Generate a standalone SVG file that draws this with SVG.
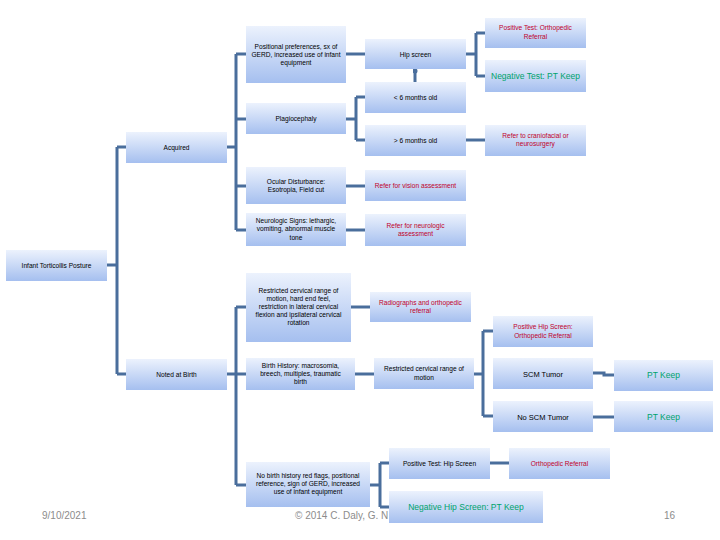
<svg xmlns="http://www.w3.org/2000/svg" width="720" height="540" viewBox="0 0 720 540">
<defs>
<linearGradient id="g" x1="0" y1="0" x2="0" y2="1">
<stop offset="0" stop-color="#ecf2fd"/>
<stop offset="1" stop-color="#a5bfef"/>
</linearGradient>
<marker id="dot" viewBox="0 0 6 6" refX="3" refY="3" markerWidth="5" markerHeight="5" markerUnits="userSpaceOnUse" orient="auto">
<circle cx="3" cy="3" r="3" fill="#4a6e9c"/>
</marker>
</defs>
<style>
rect.b{fill:url(#g);}
text{font-family:"Liberation Sans",Arial,sans-serif;font-size:6.6px;text-anchor:middle;fill:#000;}
text.r{fill:#c0002a;}
text.gr{fill:#00a36c;font-size:8.5px;}
text.m{font-size:7.5px;}
text.f{fill:#8c8c8c;font-size:10px;text-anchor:start;}
.c path{fill:none;stroke:#4a6e9c;stroke-width:3;}
</style>
<rect width="720" height="540" fill="#fff"/>
<g id="footer">
<text class="f" x="42" y="519">9/10/2021</text>
<text class="f" x="295" y="519">© 2014 C. Daly, G. N</text>
<text class="f" x="664" y="519">16</text>
</g>
<g class="c" id="connectors">
<path d="M107,265 H117 M117,147 V374 M117,147 H126 M117,374 H126"/>
<path d="M227,147 H236 M236,54 V230 M236,54 H246 M236,119 H246 M236,186 H246 M236,230 H246"/>
<path d="M227,374 H236 M236,307 V485 M236,307 H246 M236,374 H246 M236,485 H246"/>
<path d="M346,54 H365"/>
<path d="M415,82 V71" marker-end="url(#dot)"/>
<path d="M466,54 H476 M476,33 V76 M476,33 H485 M476,76 H485"/>
<path d="M346,119 H356 M356,97 V140 M356,97 H365 M356,140 H365"/>
<path d="M466,140 H485"/>
<path d="M346,186 H365"/>
<path d="M346,230 H365"/>
<path d="M351,307 H370"/>
<path d="M355,374 H374"/>
<path d="M474,374 H483 M483,331 V416 M483,331 H493 M483,416 H493"/>
<path d="M593,373 H604 V375 H614"/>
<path d="M593,417 H614"/>
<path d="M370,485 H380 M380,463 V507 M380,463 H389 M380,507 H389"/>
<path d="M490,463 H509"/>
</g>
<g id="n-infant"><rect class="b" x="6" y="250" width="101" height="31"/><text x="56.5" y="268">Infant Torticollis Posture</text></g>
<g id="n-acquired"><rect class="b" x="126" y="132" width="101" height="31"/><text x="176.5" y="150">Acquired</text></g>
<g id="n-birth"><rect class="b" x="126" y="359" width="101" height="31"/><text x="176.5" y="377">Noted at Birth</text></g>
<g id="n-positional"><rect class="b" x="246" y="26" width="100" height="57"/><text x="296" y="49">Positional preferences, sx of</text><text x="296" y="57">GERD, increased use of infant</text><text x="296" y="65">equipment</text></g>
<g id="n-plagio"><rect class="b" x="246" y="103" width="100" height="31"/><text x="296" y="121">Plagiocephaly</text></g>
<g id="n-ocular"><rect class="b" x="246" y="167" width="100" height="37"/><text x="296" y="184">Ocular Disturbance:</text><text x="296" y="192">Esotropia, Field cut</text></g>
<g id="n-neuro"><rect class="b" x="246" y="213" width="100" height="33"/><text x="296" y="223">Neurologic Signs: lethargic,</text><text x="296" y="231">vomiting, abnormal muscle</text><text x="296" y="240">tone</text></g>
<g id="n-hip"><rect class="b" x="365" y="39" width="101" height="30"/><text x="415.5" y="57">Hip screen</text></g>
<g id="n-lt6"><rect class="b" x="365" y="82" width="101" height="31"/><text x="415.5" y="100">&lt; 6 months old</text></g>
<g id="n-gt6"><rect class="b" x="365" y="125" width="101" height="31"/><text x="415.5" y="143">&gt; 6 months old</text></g>
<g id="n-pos-test"><rect class="b" x="485" y="18" width="101" height="30"/><text class="r" x="535.5" y="30">Positive Test: Orthopedic</text><text class="r" x="535.5" y="39">Referral</text></g>
<g id="n-neg-test"><rect class="b" x="485" y="60" width="101" height="32"/><text class="gr" x="535.5" y="79">Negative Test: PT Keep</text></g>
<g id="n-cranio"><rect class="b" x="485" y="125" width="101" height="31"/><text class="r" x="535.5" y="138">Refer to craniofacial or</text><text class="r" x="535.5" y="146">neurosurgery</text></g>
<g id="n-vision"><rect class="b" x="365" y="170" width="101" height="31"/><text class="r" x="415.5" y="188">Refer for vision assessment</text></g>
<g id="n-neuro-ref"><rect class="b" x="365" y="214" width="101" height="32"/><text class="r" x="415.5" y="228">Refer for neurologic</text><text class="r" x="415.5" y="236">assessment</text></g>
<g id="n-restricted"><rect class="b" x="246" y="273" width="105" height="69"/><text x="298.5" y="293">Restricted cervical range of</text><text x="298.5" y="301">motion, hard end feel,</text><text x="298.5" y="309">restriction in lateral cervical</text><text x="298.5" y="317">flexion and ipsilateral cervical</text><text x="298.5" y="325">rotation</text></g>
<g id="n-radio"><rect class="b" x="370" y="292" width="101" height="30"/><text class="r" x="420.5" y="305">Radiographs and orthopedic</text><text class="r" x="420.5" y="313">referral</text></g>
<g id="n-birthhx"><rect class="b" x="246" y="358" width="109" height="32"/><text x="300.5" y="368">Birth History: macrosomia,</text><text x="300.5" y="376">breech, multiples, traumatic</text><text x="300.5" y="384">birth</text></g>
<g id="n-rcrom"><rect class="b" x="374" y="358" width="100" height="31"/><text x="424" y="371">Restricted cervical range of</text><text x="424" y="380">motion</text></g>
<g id="n-poship"><rect class="b" x="493" y="316" width="100" height="31"/><text class="r" x="543" y="329">Positive Hip Screen:</text><text class="r" x="543" y="338">Orthopedic Referral</text></g>
<g id="n-scm"><rect class="b" x="493" y="358" width="100" height="31"/><text class="m" x="543" y="377">SCM Tumor</text></g>
<g id="n-noscm"><rect class="b" x="493" y="401" width="100" height="31"/><text class="m" x="543" y="420">No SCM Tumor</text></g>
<g id="n-ptkeep1"><rect class="b" x="614" y="360" width="99" height="31"/><text class="gr" x="663.5" y="378">PT Keep</text></g>
<g id="n-ptkeep2"><rect class="b" x="614" y="401" width="99" height="31"/><text class="gr" x="663.5" y="420">PT Keep</text></g>
<g id="n-nobirth"><rect class="b" x="246" y="462" width="124" height="45"/><text x="308" y="478">No birth history red flags, positional</text><text x="308" y="486">reference, sign of GERD, increased</text><text x="308" y="494">use of infant equipment</text></g>
<g id="n-poshs"><rect class="b" x="389" y="448" width="101" height="31"/><text x="439.5" y="466">Positive Test: Hip Screen</text></g>
<g id="n-orthoref"><rect class="b" x="509" y="448" width="101" height="31"/><text class="r" x="559.5" y="466">Orthopedic Referral</text></g>
<g id="n-neghs"><rect class="b" x="389" y="491" width="154" height="32"/><text class="gr" x="466" y="510">Negative Hip Screen: PT Keep</text></g>
</svg>
